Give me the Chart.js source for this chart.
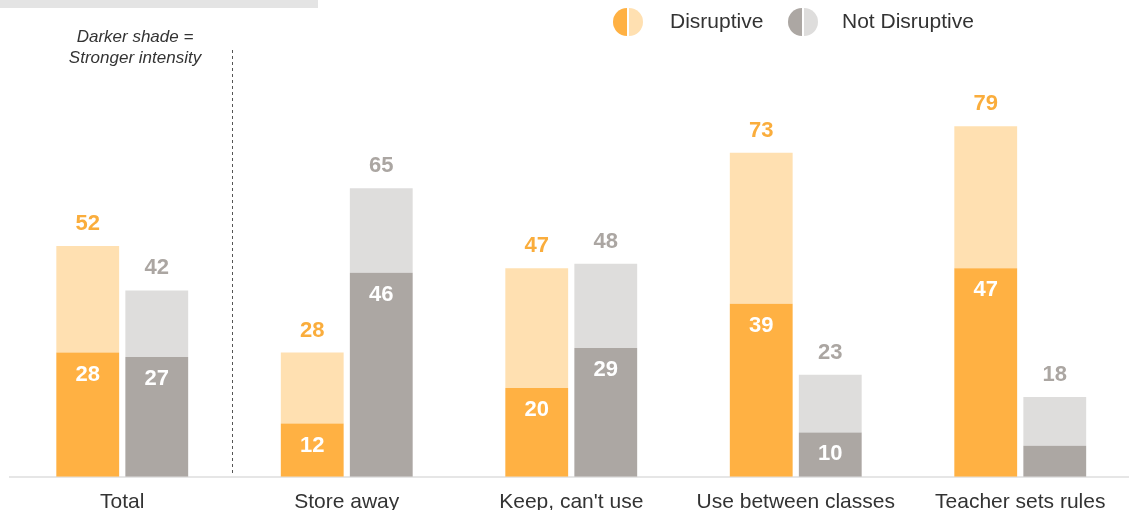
<!DOCTYPE html>
<html>
<head>
<meta charset="utf-8">
<title>Disruptive vs Not Disruptive</title>
<script src="https://cdn.jsdelivr.net/npm/chart.js@4/dist/chart.umd.min.js"></script>
<style>
    html, body { margin: 0; padding: 0; background: #ffffff; overflow: hidden; }
    #wrap { width: 1140px; height: 510px; overflow: hidden; }
</style>
</head>
<body>
<div id="wrap"><canvas id="phoneChart" width="1140" height="520"></canvas></div>
<script>
const categories = ['Total', 'Store away', "Keep, can't use", 'Use between classes', 'Teacher sets rules'];
const disruptiveTotal = [52, 28, 47, 73, 79];
const disruptiveStrong = [28, 12, 20, 39, 47];
const notDisruptiveTotal = [42, 65, 48, 23, 18];
const notDisruptiveStrong = [27, 46, 29, 10, 7];

const FONT = "'Liberation Sans', Arial, sans-serif";
const ORANGE_DARK = '#FFB143';
const ORANGE_LIGHT = '#FFE0B1';
const GRAY_DARK = '#ACA7A3';
const GRAY_LIGHT = '#DEDDDC';
const ORANGE_TEXT = '#FAAD3C';
const GRAY_TEXT = '#ABA6A2';

// light segment = whole share minus the strong part
const rest = (total, strong) => total.map((v, i) => v - strong[i]);

function barDataset(label, data, stack, color) {
    return {
        label: label,
        data: data,
        stack: stack,
        backgroundColor: color,
        borderWidth: 0,
        categoryPercentage: 0.615,
        barPercentage: 0.91
    };
}

// Values above each stack and inside the dark segment
const valueLabels = {
    id: 'valueLabels',
    afterDatasetsDraw(chart) {
        const ctx = chart.ctx;
        ctx.save();
        ctx.font = 'bold 22px ' + FONT;
        ctx.textAlign = 'center';
        ctx.textBaseline = 'middle';
        const pairs = [
            { strongIdx: 0, restIdx: 1, totals: disruptiveTotal, strong: disruptiveStrong, color: ORANGE_TEXT },
            { strongIdx: 2, restIdx: 3, totals: notDisruptiveTotal, strong: notDisruptiveStrong, color: GRAY_TEXT }
        ];
        pairs.forEach(p => {
            const strongMeta = chart.getDatasetMeta(p.strongIdx);
            const restMeta = chart.getDatasetMeta(p.restIdx);
            categories.forEach((c, i) => {
                const top = restMeta.data[i];
                ctx.fillStyle = p.color;
                ctx.fillText(String(p.totals[i]), top.x, top.y - 22);
                const dark = strongMeta.data[i];
                if (dark.base - dark.y > 40) {
                    ctx.fillStyle = '#ffffff';
                    ctx.fillText(String(p.strong[i]), dark.x, dark.y + 22);
                }
            });
        });
        ctx.restore();
    }
};

// Header strip, legend, note and divider
const decorations = {
    id: 'decorations',
    beforeDraw(chart) {
        const ctx = chart.ctx;
        const area = chart.chartArea;
        ctx.save();
        ctx.fillStyle = '#E4E4E4';
        ctx.fillRect(0, 0, 318, 8);

        ctx.strokeStyle = '#555555';
        ctx.lineWidth = 1;
        ctx.setLineDash([3, 3]);
        ctx.beginPath();
        ctx.moveTo(232.5, 50);
        ctx.lineTo(232.5, area.bottom);
        ctx.stroke();
        ctx.restore();
    },
    afterDraw(chart) {
        const ctx = chart.ctx;
        ctx.save();
        ctx.fillStyle = '#333333';
        ctx.font = 'italic 17px ' + FONT;
        ctx.textAlign = 'center';
        ctx.textBaseline = 'middle';
        ctx.fillText('Darker shade =', 135, 37);
        ctx.fillText('Stronger intensity', 135, 58);

        const legend = [
            { x: 628, text: 'Disruptive', dark: ORANGE_DARK, light: ORANGE_LIGHT, tx: 670 },
            { x: 803, text: 'Not Disruptive', dark: GRAY_DARK, light: GRAY_LIGHT, tx: 842 }
        ];
        legend.forEach(l => {
            const cy = 22, r = 14;
            ctx.fillStyle = l.dark;
            ctx.beginPath();
            ctx.arc(l.x - 1, cy, r, Math.PI / 2, Math.PI * 1.5);
            ctx.closePath();
            ctx.fill();
            ctx.fillStyle = l.light;
            ctx.beginPath();
            ctx.arc(l.x + 1, cy, r, -Math.PI / 2, Math.PI / 2);
            ctx.closePath();
            ctx.fill();
            ctx.fillStyle = '#333333';
            ctx.font = '21px ' + FONT;
            ctx.textAlign = 'left';
            ctx.fillText(l.text, l.tx, cy);
        });
        ctx.restore();
    }
};

new Chart(document.getElementById('phoneChart').getContext('2d'), {
    type: 'bar',
    data: {
        labels: categories,
        datasets: [
            barDataset('Disruptive (strong)', disruptiveStrong, 'd', ORANGE_DARK),
            barDataset('Disruptive', rest(disruptiveTotal, disruptiveStrong), 'd', ORANGE_LIGHT),
            barDataset('Not Disruptive (strong)', notDisruptiveStrong, 'n', GRAY_DARK),
            barDataset('Not Disruptive', rest(notDisruptiveTotal, notDisruptiveStrong), 'n', GRAY_LIGHT)
        ]
    },
    options: {
        responsive: false,
        animation: false,
        layout: { padding: { left: 10, right: 7.5, top: 33, bottom: 0 } },
        plugins: {
            legend: { display: false },
            tooltip: { enabled: false }
        },
        scales: {
            x: {
                stacked: true,
                grid: { display: false },
                border: { display: true, color: '#E6E6E6', width: 2 },
                ticks: {
                    color: '#333333',
                    font: { family: FONT, size: 21 },
                    padding: 5,
                    maxRotation: 0,
                    autoSkip: false
                }
            },
            y: {
                stacked: true,
                display: false,
                min: 0,
                max: 100
            }
        }
    },
    plugins: [valueLabels, decorations]
});
</script>
</body>
</html>
